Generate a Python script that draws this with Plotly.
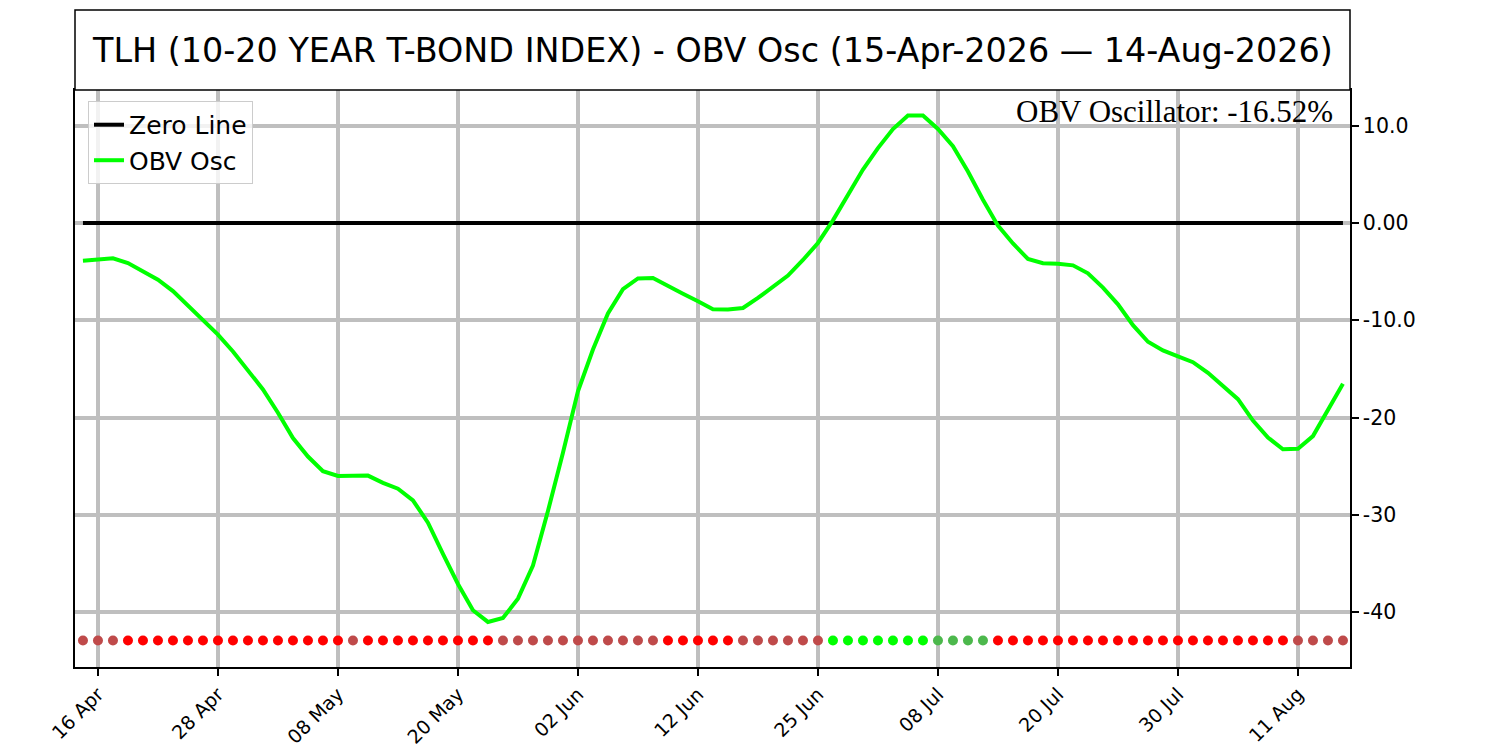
import pandas as pd
import plotly.graph_objects as go

# trading days 15-Apr-2026 .. 14-Aug-2026 (US market holidays removed)
holidays = ["2026-05-25", "2026-06-19", "2026-07-03"]
dates = pd.bdate_range("2026-04-15", "2026-08-14", freq="C", holidays=holidays)
date_keys = [d.strftime("%Y-%m-%d") for d in dates]

obv_osc = [
    -3.87, -3.77, -3.63, -4.11, -4.97, -5.82, -7.0, -8.5, -10.1, -11.47,
    -13.2, -15.1, -17.1, -19.5, -22.1, -24.0, -25.5, -26.0, -25.96, -25.96,
    -26.7, -27.3, -28.5, -30.8, -34.0, -37.1, -39.8, -41.0, -40.6, -38.6,
    -35.2, -29.6, -23.6, -17.3, -13.0, -9.3, -6.8, -5.7, -5.65, -6.4,
    -7.26, -8.05, -8.87, -8.9, -8.73, -7.7, -6.6, -5.4, -3.8, -2.05,
    0.27, 2.9, 5.5, 7.7, 9.66, 11.06, 11.06, 9.66, 7.9, 5.3,
    2.4, -0.27, -2.1, -3.7, -4.14, -4.18, -4.35, -5.17, -6.64, -8.36,
    -10.5, -12.2, -13.1, -13.7, -14.3, -15.4, -16.7, -18.1, -20.3, -22.05,
    -23.25, -23.2, -21.9, -19.3, -16.52,
]

# signal state per day: R = falling red, B = weak bear, G = rising, g = weak bull
signal = [
    "B", "B", "B", "R", "R", "R", "R", "R", "R", "R",
    "R", "R", "R", "R", "R", "R", "R", "R", "B", "R",
    "R", "R", "R", "R", "R", "R", "R", "R", "B", "B",
    "B", "B", "B", "B", "B", "B", "B", "B", "B", "R",
    "R", "R", "R", "R", "B", "B", "B", "B", "B", "B",
    "G", "G", "G", "G", "G", "G", "G", "g", "g", "g",
    "g", "R", "R", "R", "R", "R", "R", "R", "R", "R",
    "R", "R", "R", "R", "R", "R", "R", "R", "R", "R",
    "R", "B", "B", "B", "B",
]
signal_colors = {"R": "#ff0000", "B": "#bf4a4a", "G": "#00ff00", "g": "#4cb84c"}
dot_level = -42.9

y_ticks = [-40, -30, -20, -10, 0, 10]
y_tick_text = ["-40", "-30", "-20", "-10.0", "0.00", "10.0"]

tick_keys = date_keys[1::8]
tick_text = [d.strftime("%d %b") for d in dates[1::8]]

font = "DejaVu Sans"

fig = go.Figure()

fig.add_trace(go.Scatter(
    x=[date_keys[0], date_keys[-1]], y=[0, 0],
    mode="lines", name="Zero Line",
    line=dict(color="black", width=4),
))
fig.add_trace(go.Scatter(
    x=date_keys, y=obv_osc,
    mode="lines", name="OBV Osc",
    line=dict(color="#00ff00", width=4),
))
fig.add_trace(go.Scatter(
    x=date_keys, y=[dot_level] * len(date_keys),
    mode="markers", showlegend=False,
    marker=dict(size=10, color=[signal_colors[s] for s in signal]),
))

title_top = 1 + 80 / 577

# page body adds ~8px, so margins are shifted to keep the plot where it belongs
fig.update_layout(
    width=1500, height=750,
    margin=dict(l=67, r=158, t=82, b=91),
    paper_bgcolor="white", plot_bgcolor="white",
    font=dict(family=font, size=20, color="black"),
    showlegend=True,
    legend=dict(
        x=0.0102, y=0.981, xanchor="left", yanchor="top",
        bgcolor="rgba(255,255,255,0.8)", bordercolor="#cccccc", borderwidth=1,
        font=dict(family=font, size=25), itemwidth=30,
    ),
    xaxis=dict(
        type="category", categoryorder="array", categoryarray=date_keys,
        range=[-0.53, 84.47], automargin=False,
        tickmode="array", tickvals=tick_keys, ticktext=tick_text,
        tickangle=-45, ticks="outside", ticklen=7, tickwidth=1.5, tickcolor="black",
        tickfont=dict(size=19),
        showgrid=True, gridcolor="#bfbfbf", gridwidth=4,
        showline=True, linecolor="black", linewidth=1.5, mirror=True,
        zeroline=False,
    ),
    yaxis=dict(
        side="right", range=[-45.63, 13.67], automargin=False,
        tickmode="array", tickvals=y_ticks, ticktext=y_tick_text,
        ticks="outside", ticklen=7, tickwidth=1.5, tickcolor="black",
        tickfont=dict(size=20.5),
        showgrid=True, gridcolor="#bfbfbf", gridwidth=4,
        showline=True, linecolor="black", linewidth=1.5, mirror=True,
        zeroline=False,
    ),
    shapes=[dict(
        type="rect", xref="paper", yref="paper",
        x0=0, x1=1, y0=1, y1=title_top,
        line=dict(color="black", width=1.5), fillcolor="white",
    )],
    annotations=[
        dict(
            text="TLH (10-20 YEAR T-BOND INDEX) - OBV Osc (15-Apr-2026 — 14-Aug-2026)",
            xref="paper", yref="paper", x=0.5, y=(1 + title_top) / 2,
            xanchor="center", yanchor="middle", showarrow=False,
            font=dict(family=font, size=33.4),
        ),
        dict(
            text="OBV Oscillator: -16.52%",
            xref="paper", yref="paper", x=0.988, y=0.996,
            xanchor="right", yanchor="top", showarrow=False,
            font=dict(family="Liberation Serif", size=31),
        ),
    ],
)

fig.write_html("out.html")
